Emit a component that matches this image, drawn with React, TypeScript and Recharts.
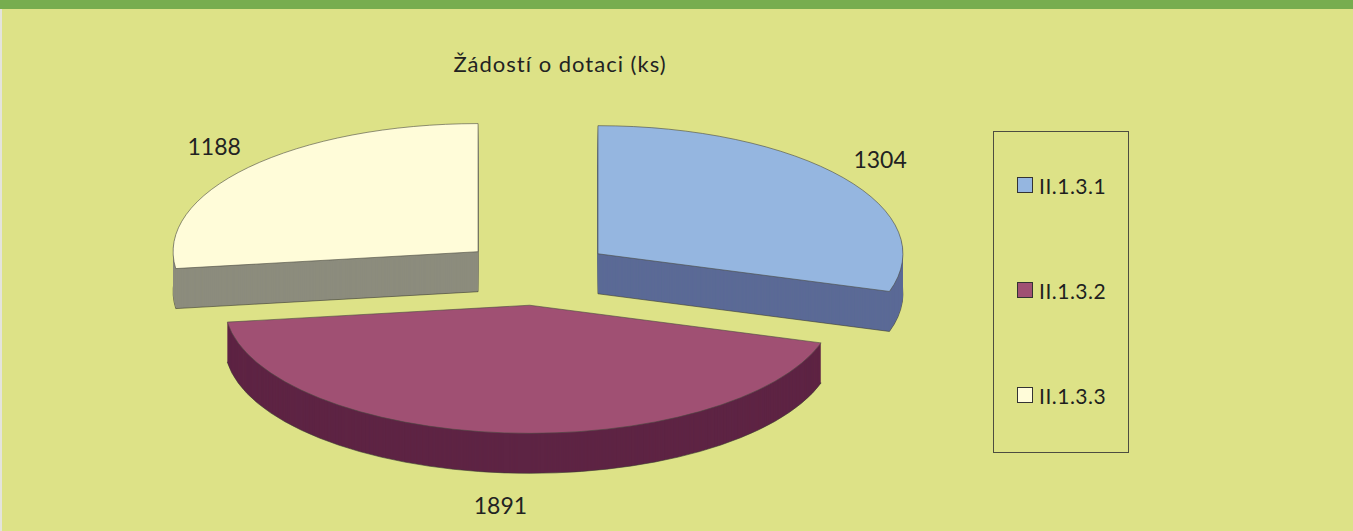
import React from 'react';
import { PieChart, Pie } from 'recharts';

const categories = ['II.1.3.1', 'II.1.3.2', 'II.1.3.3'];
const requests = [1304, 1891, 1188];
const chartTitle = 'Žádostí o dotaci (ks)';

const topColors = ['#95b6e0', '#a05073', '#fffcd9'];
const sideColors = ['#5b6a96', '#5e2444', '#8c8c7d'];

// fake 3d: squash the circle into an ellipse, extrude it down, pull slices apart
const TILT = 0.42;
const DEPTH = 40;
const EXPLODE = 77;
const RAD = Math.PI / 180;
const FONT = 'Lato, "Open Sans", sans-serif';

const data = categories.map((name, i) => ({ name, value: requests[i], top: topColors[i], side: sideColors[i] }));

function slicePath(cx: number, cy: number, rx: number, ry: number, a0: number, a1: number) {
  const x0 = cx + rx * Math.cos(a0 * RAD);
  const y0 = cy - ry * Math.sin(a0 * RAD);
  const x1 = cx + rx * Math.cos(a1 * RAD);
  const y1 = cy - ry * Math.sin(a1 * RAD);
  const large = Math.abs(a0 - a1) > 180 ? 1 : 0;
  const sweep = a0 > a1 ? 1 : 0;
  return `M${cx},${cy}L${x0},${y0}A${rx},${ry} 0 ${large} ${sweep} ${x1},${y1}Z`;
}

function centerOf(p: any) {
  const m = p.midAngle * RAD;
  return [p.cx + EXPLODE * Math.cos(m), p.cy - EXPLODE * TILT * Math.sin(m)];
}

const SideShape = (p: any) => {
  const [ex, ey] = centerOf(p);
  const rx = p.outerRadius;
  const ry = p.outerRadius * TILT;
  const layers = [];
  for (let k = DEPTH; k >= 1; k--) {
    layers.push(
      <path
        key={k}
        d={slicePath(ex, ey + k, rx, ry, p.startAngle, p.endAngle)}
        fill={p.payload.side}
        stroke={k === DEPTH ? '#3a3a30' : 'none'}
        strokeWidth={0.6}
      />
    );
  }
  return <g>{layers}</g>;
};

const TopShape = (p: any) => {
  const [ex, ey] = centerOf(p);
  return (
    <path
      d={slicePath(ex, ey, p.outerRadius, p.outerRadius * TILT, p.startAngle, p.endAngle)}
      fill={p.payload.top}
      stroke="#4a4a40"
      strokeWidth={0.6}
    />
  );
};

const renderLabel = (p: any) => {
  const [ex, ey] = centerOf(p);
  const m = p.midAngle * RAD;
  const s = Math.sin(m);
  const x = ex + p.outerRadius * 1.15 * Math.cos(m);
  const y = ey - p.outerRadius * TILT * 1.25 * s + (s < 0 ? DEPTH : 0);
  return (
    <text x={x} y={y} textAnchor="middle" dominantBaseline="central" fill="#222" fontSize={23} fontFamily={FONT}>
      {p.value}
    </text>
  );
};

export default function App() {
  return (
    <div style={{ position: 'fixed', left: 0, top: 0, width: 1353, height: 531, background: '#dde287', overflow: 'hidden', fontFamily: FONT }}>
      <div style={{ position: 'absolute', left: 0, top: 0, width: 2, height: 531, background: '#e4e4dc' }} />
      <div style={{ position: 'absolute', left: 0, top: 0, width: 1353, height: 9, background: '#77ad4f' }} />
      <div style={{ position: 'absolute', left: 360, top: 53, width: 400, textAlign: 'center', fontSize: 22, lineHeight: '22px', letterSpacing: 1, color: '#222' }}>
        {chartTitle}
      </div>
      <div style={{ position: 'absolute', left: 0, top: 0 }}>
        <PieChart width={1353} height={531} margin={{ top: 0, right: 0, bottom: 0, left: 0 }}>
          <Pie
            data={data}
            dataKey="value"
            nameKey="name"
            cx={536}
            cy={273}
            outerRadius={305}
            startAngle={90}
            endAngle={-270}
            stroke="none"
            shape={SideShape}
            inactiveShape={SideShape}
            activeShape={SideShape}
            legendType="none"
            isAnimationActive={false}
          />
          <Pie
            data={data}
            dataKey="value"
            nameKey="name"
            cx={536}
            cy={273}
            outerRadius={305}
            startAngle={90}
            endAngle={-270}
            stroke="none"
            shape={TopShape}
            inactiveShape={TopShape}
            activeShape={TopShape}
            label={renderLabel}
            labelLine={false}
            isAnimationActive={false}
          />
        </PieChart>
      </div>
      <div
        style={{
          position: 'absolute',
          left: 993,
          top: 131,
          width: 134,
          height: 320,
          border: '1.5px solid #4d4d40',
        }}
      >
        {categories.map((name, i) => (
          <div
            key={name}
            style={{ position: 'absolute', left: 23, top: 45 + i * 105, height: 16, display: 'flex', alignItems: 'center' }}
          >
            <div style={{ width: 14, height: 14, background: topColors[i], border: '1px solid #333' }} />
            <span style={{ marginLeft: 6, fontSize: 21, letterSpacing: 0.5, color: '#1f1f1f', whiteSpace: 'nowrap' }}>{name}</span>
          </div>
        ))}
      </div>
    </div>
  );
}
